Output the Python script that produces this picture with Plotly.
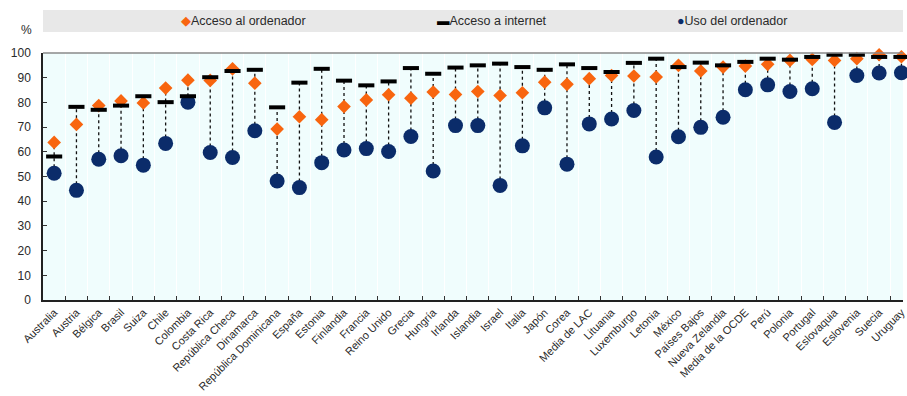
import plotly.graph_objects as go

# Países y promedios (orden del eje horizontal)
paises = [
    "Australia", "Austria", "Bélgica", "Brasil", "Suiza", "Chile", "Colombia",
    "Costa Rica", "República Checa", "Dinamarca", "República Dominicana",
    "España", "Estonia", "Finlandia", "Francia", "Reino Unido", "Grecia",
    "Hungría", "Irlanda", "Islandia", "Israel", "Italia", "Japón", "Corea",
    "Media de LAC", "Lituania", "Luxemburgo", "Letonia", "México",
    "Países Bajos", "Nueva Zelandia", "Media de la OCDE", "Perú", "Polonia",
    "Portugal", "Eslovaquia", "Eslovenia", "Suecia", "Uruguay",
]

# Porcentaje de estudiantes con acceso a un ordenador en casa
acceso_ordenador = [
    63.8, 71.1, 78.7, 80.6, 79.8, 85.8, 89.0, 88.9, 93.6, 87.8, 69.2,
    74.2, 73.0, 78.3, 81.0, 83.1, 81.7, 84.2, 83.2, 84.4, 82.8, 83.9,
    88.2, 87.3, 89.6, 90.9, 90.7, 90.3, 95.0, 92.7, 94.3, 94.7, 95.4,
    97.0, 97.4, 97.0, 97.7, 99.3, 98.5,
]

# Porcentaje con acceso a internet en casa
acceso_internet = [
    58.1, 78.2, 77.0, 78.7, 82.5, 80.1, 82.5, 90.2, 92.7, 93.2, 78.0,
    88.0, 93.6, 88.8, 86.9, 88.5, 93.9, 91.6, 94.1, 95.0, 95.7, 94.3,
    93.2, 95.4, 93.9, 92.3, 96.0, 97.7, 94.3, 96.1, 95.0, 96.4, 97.7,
    97.3, 98.4, 99.3, 99.3, 98.4, 98.4,
]

# Porcentaje que usa el ordenador
uso_ordenador = [
    51.3, 44.4, 57.0, 58.4, 54.6, 63.4, 80.1, 59.7, 57.7, 68.5, 48.2,
    45.5, 55.6, 60.7, 61.3, 60.1, 66.2, 52.2, 70.6, 70.6, 46.4, 62.4,
    77.8, 55.0, 71.3, 73.3, 76.7, 57.9, 66.1, 69.9, 74.0, 85.1, 87.1,
    84.4, 85.5, 71.9, 90.9, 91.9, 92.0,
]

NARANJA = "#F8650F"
AZUL = "#0B2C6A"
TEXTO = "#2A2A2A"
FUENTE = "Liberation Sans, Arial, sans-serif"

W, H = 907, 396
M_L, M_R, M_T, M_B = 43, 0, 53, 96
PW, PH = W - M_L - M_R, H - M_T - M_B


def px_x(x):
    return (x - M_L) / PW


def px_y(y):
    return (H - M_B - y) / PH


# Segmentos punteados: del uso del ordenador al valor más alto de acceso
seg_x, seg_y = [], []
for p, a, i, u in zip(paises, acceso_ordenador, acceso_internet, uso_ordenador):
    seg_x += [p, p, None]
    seg_y += [u, max(a, i), None]

fig = go.Figure()
fig.add_trace(go.Scatter(
    x=seg_x, y=seg_y, mode="lines",
    line=dict(color="#111111", width=1.3, dash="dot"),
    hoverinfo="skip", showlegend=False, cliponaxis=False,
))
fig.add_trace(go.Scatter(
    x=paises, y=uso_ordenador, mode="markers", name="Uso del ordenador",
    marker=dict(symbol="circle", size=15, color=AZUL),
    showlegend=False, cliponaxis=False,
))
fig.add_trace(go.Scatter(
    x=paises, y=acceso_ordenador, mode="markers", name="Acceso al ordenador",
    marker=dict(symbol="diamond", size=10.5, color=NARANJA),
    showlegend=False, cliponaxis=False,
))
fig.add_trace(go.Scatter(
    x=paises, y=acceso_internet, mode="markers", name="Acceso a internet",
    marker=dict(symbol="line-ew", size=11.5, line=dict(color="#000000", width=4)),
    showlegend=False, cliponaxis=False,
))

# Banda gris de la leyenda y borde superior del gráfico
shapes = [
    dict(type="rect", xref="paper", yref="paper",
         x0=px_x(43), x1=1.0, y0=px_y(32), y1=px_y(10),
         fillcolor="#E8E8E8", line=dict(width=0), layer="below"),
    dict(type="line", xref="paper", yref="paper",
         x0=0, x1=1, y0=1, y1=1, line=dict(color="#8A8A8A", width=1.5)),
]

leyenda = [
    (180, NARANJA, "◆", "Acceso al ordenador"),
    (437, "#000000", "▬", "Acceso a internet"),
    (678, AZUL, "●", "Uso del ordenador"),
]
annotations = []
for x0, col, sym, txt in leyenda:
    annotations.append(dict(
        xref="paper", yref="paper", x=px_x(x0), y=px_y(21),
        xanchor="left", yanchor="middle", showarrow=False,
        text=f'<span style="color:{col}">{sym}</span>{txt}',
        font=dict(family=FUENTE, size=12.5, color=TEXTO),
    ))
annotations.append(dict(
    xref="paper", yref="paper", x=px_x(26), y=px_y(30),
    xanchor="center", yanchor="middle", showarrow=False, text="%",
    font=dict(family=FUENTE, size=12, color=TEXTO),
))

fig.update_layout(
    width=W, height=H,
    margin=dict(l=M_L, r=M_R, t=M_T, b=M_B, pad=0),
    paper_bgcolor="white", plot_bgcolor="#F0FDFD",
    font=dict(family=FUENTE, size=11, color=TEXTO),
    shapes=shapes, annotations=annotations, showlegend=False,
)
fig.update_xaxes(
    type="category", categoryorder="array", categoryarray=paises,
    range=[-0.5, 38.07], tickson="boundaries", ticks="inside", ticklen=4,
    tickcolor="#333333", tickangle=-45,
    tickfont=dict(family=FUENTE, size=11, color=TEXTO),
    showgrid=True, gridcolor="#FFFFFF", gridwidth=1,
    showline=True, linecolor="#222222", linewidth=1.5, zeroline=False,
)
fig.update_yaxes(
    range=[0, 100], dtick=10, ticks="inside", ticklen=4, tickcolor="#333333",
    tickfont=dict(family=FUENTE, size=12, color=TEXTO), ticklabelstandoff=8,
    showgrid=False, zeroline=False,
    showline=True, linecolor="#222222", linewidth=1.5,
)

fig.write_html("out.html")
